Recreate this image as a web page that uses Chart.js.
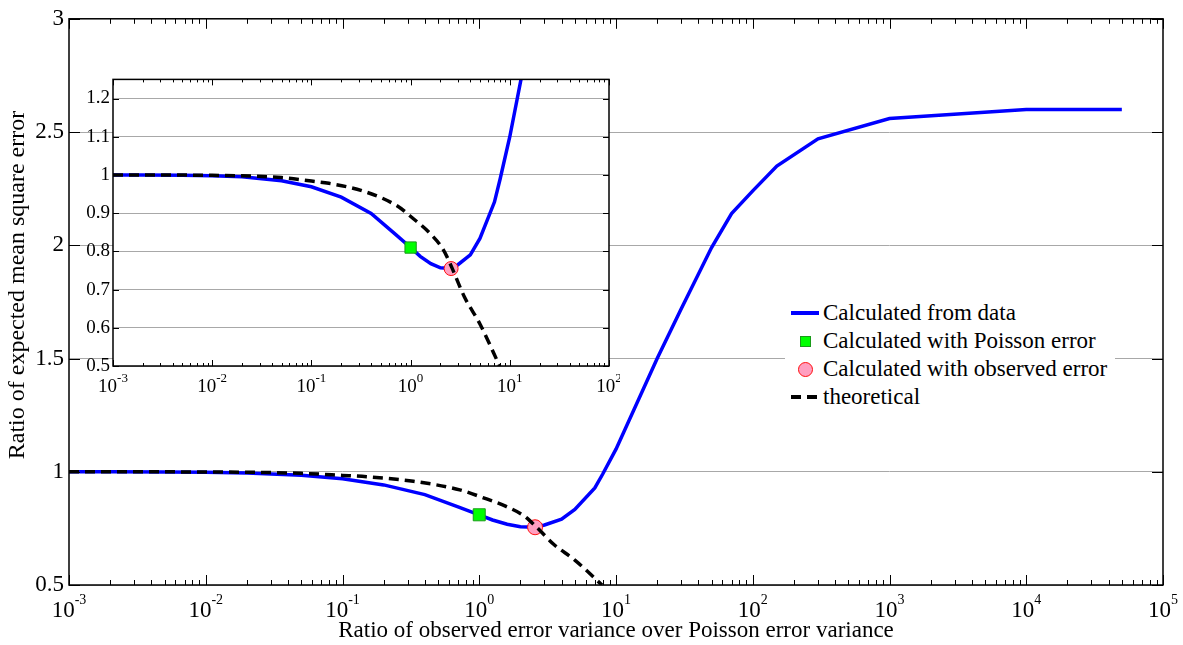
<!DOCTYPE html>
<html>
<head>
<meta charset="utf-8">
<script src="https://cdn.jsdelivr.net/npm/chart.js@4.4.0/dist/chart.umd.min.js"></script>
<style>
  body { margin: 0; background: #fff; }
  #wrap { position: relative; width: 1183px; height: 645px; overflow: hidden; }
  #mainChart { position: absolute; left: 0; top: 0; }
  #insetChart { position: absolute; left: 60px; top: 65px; }
  #legend { position: absolute; left: 785px; top: 299px; width: 330px; background: #fff;
            font: 23px "Liberation Serif", "Times New Roman", serif; color: #000; }
  #legend .item { height: 28px; display: flex; align-items: center; }
  #legend .key { width: 38px; height: 28px; position: relative; flex: none; }
</style>
</head>
<body>
<div id="wrap">
  <canvas id="mainChart" width="1183" height="645"></canvas>
  <canvas id="insetChart" width="560" height="340"></canvas>
  <div id="legend"></div>
</div>
<script>
// variance ratio vs. MSE ratio, curve computed from the data
var ratioObs = [0.001, 0.002, 0.005, 0.01, 0.02, 0.05, 0.1, 0.2, 0.4, 0.7, 1, 1.25, 1.6, 2, 2.56, 3, 4, 5, 7, 8, 10, 20, 30, 50, 70, 100, 150, 300, 1000, 10000, 50000];
var mseObs   = [1.0, 1.0, 0.999, 0.998, 0.995, 0.985, 0.969, 0.942, 0.899, 0.845, 0.81, 0.787, 0.768, 0.757, 0.755, 0.765, 0.791, 0.834, 0.929, 0.99, 1.1, 1.5, 1.72, 1.99, 2.14, 2.24, 2.35, 2.47, 2.56, 2.6, 2.6];

// theoretical curve
var ratioTheory = [0.001, 0.01, 0.05, 0.1, 0.15, 0.33, 0.72, 1.06, 1.57, 2.14, 2.56, 3.5, 5, 7.9];
var mseTheory   = [1.0, 0.999, 0.993, 0.984, 0.978, 0.958, 0.92, 0.886, 0.847, 0.804, 0.762, 0.68, 0.61, 0.5];

// single markers
var poissonRatio = [1],    poissonMse = [0.81];
var observedRatio = [2.56], observedMse = [0.755];

// axes
var mainXExp = [-3, -2, -1, 0, 1, 2, 3, 4, 5];
var mainYTicks = [0.5, 1, 1.5, 2, 2.5, 3];
var insetXExp = [-3, -2, -1, 0, 1, 2];
var insetYTicks = [0.5, 0.6, 0.7, 0.8, 0.9, 1, 1.1, 1.2];

var labels = ['Calculated from data', 'Calculated with Poisson error', 'Calculated with observed error', 'theoretical'];
var xTitle = 'Ratio of observed error variance over Poisson error variance';
var yTitle = 'Ratio of expected mean square error';
var serif = '"Liberation Serif", "Times New Roman", serif';

function pts(xs, ys) {
  return xs.map(function (v, i) { return { x: v, y: ys[i] }; });
}

function makeDatasets(sq, circ) {
  return [
    { label: labels[3], data: pts(ratioTheory, mseTheory), showLine: true, borderColor: '#000',
      borderWidth: 3.5, borderDash: [10, 6], pointRadius: 0, cubicInterpolationMode: 'monotone',
      order: 0, clip: 0 },
    { label: labels[2], data: pts(observedRatio, observedMse), pointStyle: 'circle', pointRadius: circ,
      backgroundColor: '#ff9fc0', borderColor: '#ff1010', borderWidth: 1, order: 1 },
    { label: labels[1], data: pts(poissonRatio, poissonMse), pointStyle: 'rect', pointRadius: sq,
      backgroundColor: '#00ff00', borderColor: '#1a9a1a', borderWidth: 1, order: 2 },
    { label: labels[0], data: pts(ratioObs, mseObs), showLine: true, borderColor: '#0000ff',
      borderWidth: 3.5, pointRadius: 0, order: 3, clip: 0 }
  ];
}

// white plot area, inward tick marks, frame and 10^n labels
function axesBox(o) {
  return {
    id: 'axesBox',
    beforeDraw: function (chart) {
      var a = chart.chartArea, ctx = chart.ctx;
      ctx.save();
      ctx.fillStyle = '#fff';
      ctx.fillRect(a.left, a.top, a.right - a.left, a.bottom - a.top);
      ctx.restore();
    },
    afterDraw: function (chart) {
      var ctx = chart.ctx, a = chart.chartArea, x = chart.scales.x, y = chart.scales.y;
      ctx.save();
      ctx.strokeStyle = '#000';
      ctx.lineWidth = 1;
      ctx.beginPath();
      o.exps.forEach(function (e, i) {
        for (var k = 1; k <= 9; k++) {
          if (i === o.exps.length - 1 && k > 1) break;
          var px = Math.round(x.getPixelForValue(k * Math.pow(10, e))) + 0.5;
          var len = k === 1 ? o.major : o.minor;
          ctx.moveTo(px, a.bottom); ctx.lineTo(px, a.bottom - len);
          ctx.moveTo(px, a.top); ctx.lineTo(px, a.top + len);
        }
      });
      y.ticks.forEach(function (t) {
        var py = Math.round(y.getPixelForValue(t.value)) + 0.5;
        ctx.moveTo(a.left, py); ctx.lineTo(a.left + o.yTick, py);
        ctx.moveTo(a.right, py); ctx.lineTo(a.right - o.yTick, py);
      });
      ctx.stroke();
      ctx.lineWidth = o.frame;
      ctx.strokeRect(a.left, a.top, a.right - a.left, a.bottom - a.top);

      ctx.fillStyle = '#000';
      ctx.textAlign = 'left';
      ctx.textBaseline = 'alphabetic';
      o.exps.forEach(function (e) {
        var px = x.getPixelForValue(Math.pow(10, e));
        var sup = String(e);
        ctx.font = o.size + 'px ' + serif;
        var w1 = ctx.measureText('10').width;
        ctx.font = o.supSize + 'px ' + serif;
        var w2 = ctx.measureText(sup).width;
        var x0 = px - (w1 + w2) / 2;
        ctx.font = o.size + 'px ' + serif;
        ctx.fillText('10', x0, a.bottom + o.dy);
        ctx.font = o.supSize + 'px ' + serif;
        ctx.fillText(sup, x0 + w1, a.bottom + o.dy - o.rise);
      });

      // rotated y title, a bit above the axis centre
      if (o.yTitle) {
        ctx.save();
        ctx.translate(o.yTitle.x, o.yTitle.y);
        ctx.rotate(-Math.PI / 2);
        ctx.textAlign = 'center';
        ctx.textBaseline = 'middle';
        ctx.font = o.yTitle.size + 'px ' + serif;
        ctx.fillText(o.yTitle.text, 0, 0);
        ctx.restore();
      }
      ctx.restore();
    }
  };
}

function yTicksFrom(list) {
  return function (scale) {
    scale.ticks = list.map(function (v) { return { value: v }; });
  };
}

var mainChart = new Chart(document.getElementById('mainChart'), {
  type: 'scatter',
  data: { datasets: makeDatasets(8.5, 7.5) },
  options: {
    responsive: false,
    animation: false,
    layout: { padding: { left: 0, top: 13, right: 20, bottom: 0 } },
    plugins: { legend: { display: false }, tooltip: { enabled: false } },
    scales: {
      x: {
        type: 'logarithmic', min: 1e-3, max: 1e5,
        grid: { display: false }, border: { display: false },
        ticks: { display: false },
        title: { display: true, text: xTitle,
                 color: '#000', font: { family: serif, size: 23, lineHeight: 1.2 }, padding: 0 },
        afterFit: function (s) { s.height = 60; }
      },
      y: {
        min: 0.5, max: 3,
        afterBuildTicks: yTicksFrom(mainYTicks),
        grid: { color: '#a8a8a8', lineWidth: 1, drawTicks: false }, border: { display: false },
        ticks: { color: '#000', padding: 5, font: { family: serif, size: 23 },
                 callback: function (v) { return String(+v.toFixed(2)); } },
        afterFit: function (s) { s.width = 69; }
      }
    }
  },
  plugins: [axesBox({ exps: mainXExp, major: 10, minor: 5, yTick: 11, frame: 1.5,
                      size: 23, supSize: 14, dy: 32, rise: 13,
                      yTitle: { text: yTitle, x: 18, y: 285, size: 24 } })]
});

var insetChart = new Chart(document.getElementById('insetChart'), {
  type: 'scatter',
  data: { datasets: makeDatasets(8, 7) },
  options: {
    responsive: false,
    animation: false,
    layout: { padding: { left: 0, top: 11, right: 11, bottom: 0 } },
    plugins: { legend: { display: false }, tooltip: { enabled: false } },
    scales: {
      x: {
        type: 'logarithmic', min: 1e-3, max: 1e2,
        grid: { display: false }, border: { display: false },
        ticks: { display: false },
        afterFit: function (s) { s.height = 39; }
      },
      y: {
        min: 0.5, max: 1.25,
        afterBuildTicks: yTicksFrom(insetYTicks),
        grid: { color: '#a8a8a8', lineWidth: 1, drawTicks: false }, border: { display: false },
        ticks: { color: '#000', padding: 3, font: { family: serif, size: 19 },
                 callback: function (v) { return String(+v.toFixed(2)); } },
        afterFit: function (s) { s.width = 53; }
      }
    }
  },
  plugins: [axesBox({ exps: insetXExp, major: 6, minor: 3, yTick: 6, frame: 1.5,
                      size: 19, supSize: 13, dy: 26, rise: 10 })]
});

// legend entries
var legendKeys = [
  '<div style="position:absolute;left:6px;top:12px;width:28px;height:3.5px;background:#0000ff"></div>',
  '<div style="position:absolute;left:15px;top:9px;width:9px;height:9px;background:#00ff00;border:1px solid #1a9a1a"></div>',
  '<div style="position:absolute;left:13px;top:7px;width:13px;height:13px;border-radius:50%;background:#ff9fc0;border:1px solid #ff1010"></div>',
  '<div style="position:absolute;left:6px;top:12px;width:10px;height:3.5px;background:#000"></div>' +
  '<div style="position:absolute;left:22px;top:12px;width:10px;height:3.5px;background:#000"></div>'
];
document.getElementById('legend').innerHTML = labels.map(function (t, i) {
  return '<div class="item"><div class="key">' + legendKeys[i] + '</div><span>' + t + '</span></div>';
}).join('');
</script>
</body>
</html>
